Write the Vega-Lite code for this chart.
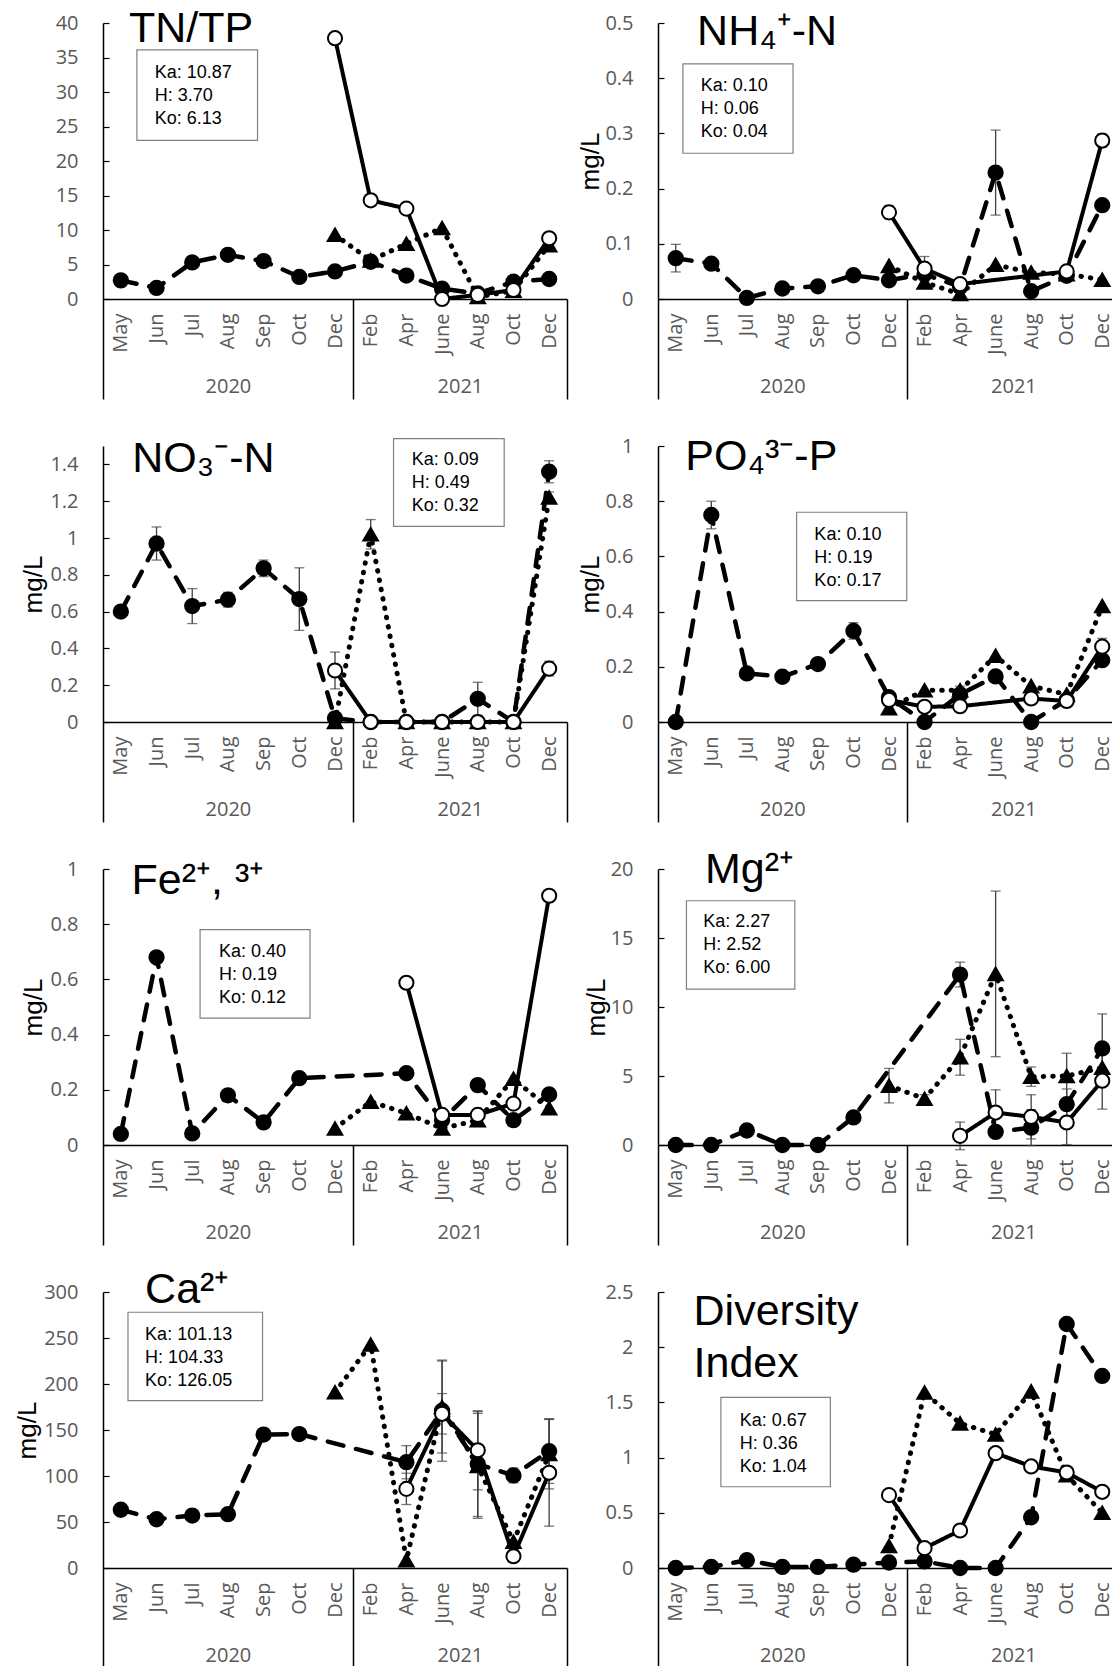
{
"$schema":"https://vega.github.io/schema/vega-lite/v6.json",
"background":"white",
"padding":{"left":14,"top":8,"right":0,"bottom":0},
"datasets":{"d":[
{"p":1,"s":"H","i":0,"v":2.7},{"p":1,"s":"H","i":1,"v":1.6},{"p":1,"s":"H","i":2,"v":5.3},{"p":1,"s":"H","i":3,"v":6.4},{"p":1,"s":"H","i":4,"v":5.5},{"p":1,"s":"H","i":5,"v":3.2},{"p":1,"s":"H","i":6,"v":4.0},{"p":1,"s":"H","i":7,"v":5.4},{"p":1,"s":"H","i":8,"v":3.4},{"p":1,"s":"H","i":9,"v":1.5},{"p":1,"s":"H","i":10,"v":0.8},{"p":1,"s":"H","i":11,"v":2.5},{"p":1,"s":"H","i":12,"v":2.9},
{"p":1,"s":"Ko","i":6,"v":9.3},{"p":1,"s":"Ko","i":7,"v":5.6},{"p":1,"s":"Ko","i":8,"v":8.0},{"p":1,"s":"Ko","i":9,"v":10.3},{"p":1,"s":"Ko","i":10,"v":0.3},{"p":1,"s":"Ko","i":11,"v":1.2},{"p":1,"s":"Ko","i":12,"v":7.8},
{"p":1,"s":"Ka","i":6,"v":37.8},{"p":1,"s":"Ka","i":7,"v":14.3},{"p":1,"s":"Ka","i":8,"v":13.1},{"p":1,"s":"Ka","i":9,"v":0},{"p":1,"s":"Ka","i":10,"v":0.6},{"p":1,"s":"Ka","i":11,"v":1.3},{"p":1,"s":"Ka","i":12,"v":8.8},

{"p":2,"s":"H","i":0,"v":0.074,"e":0.025},{"p":2,"s":"H","i":1,"v":0.064,"e":0.008},{"p":2,"s":"H","i":2,"v":0.002},{"p":2,"s":"H","i":3,"v":0.019},{"p":2,"s":"H","i":4,"v":0.023},{"p":2,"s":"H","i":5,"v":0.043},{"p":2,"s":"H","i":6,"v":0.034},{"p":2,"s":"H","i":7,"v":0.045},{"p":2,"s":"H","i":8,"v":0.022},{"p":2,"s":"H","i":9,"v":0.229,"e":0.077},{"p":2,"s":"H","i":10,"v":0.014},{"p":2,"s":"H","i":11,"v":0.042},{"p":2,"s":"H","i":12,"v":0.17},
{"p":2,"s":"Ko","i":6,"v":0.06},{"p":2,"s":"Ko","i":7,"v":0.03},{"p":2,"s":"Ko","i":8,"v":0.009},{"p":2,"s":"Ko","i":9,"v":0.062},{"p":2,"s":"Ko","i":10,"v":0.048},{"p":2,"s":"Ko","i":11,"v":0.045},{"p":2,"s":"Ko","i":12,"v":0.035},
{"p":2,"s":"Ka","i":6,"v":0.157,"e":0.012},{"p":2,"s":"Ka","i":7,"v":0.055,"e":0.022},{"p":2,"s":"Ka","i":8,"v":0.027},{"p":2,"s":"Ka","i":11,"v":0.05,"e":0.01},{"p":2,"s":"Ka","i":12,"v":0.287,"e":0.012},

{"p":3,"s":"H","i":0,"v":0.6},{"p":3,"s":"H","i":1,"v":0.97,"e":0.09},{"p":3,"s":"H","i":2,"v":0.63,"e":0.095},{"p":3,"s":"H","i":3,"v":0.665,"e":0.04},{"p":3,"s":"H","i":4,"v":0.835,"e":0.045},{"p":3,"s":"H","i":5,"v":0.668,"e":0.17},{"p":3,"s":"H","i":6,"v":0.02},{"p":3,"s":"H","i":7,"v":0},{"p":3,"s":"H","i":8,"v":0},{"p":3,"s":"H","i":9,"v":0},{"p":3,"s":"H","i":10,"v":0.126,"e":0.09},{"p":3,"s":"H","i":11,"v":0},{"p":3,"s":"H","i":12,"v":1.36,"e":0.06},
{"p":3,"s":"Ko","i":6,"v":0},{"p":3,"s":"Ko","i":7,"v":1.02,"e":0.08},{"p":3,"s":"Ko","i":8,"v":0},{"p":3,"s":"Ko","i":9,"v":0},{"p":3,"s":"Ko","i":10,"v":0},{"p":3,"s":"Ko","i":11,"v":0},{"p":3,"s":"Ko","i":12,"v":1.22,"e":0.03},
{"p":3,"s":"Ka","i":6,"v":0.28,"e":0.1},{"p":3,"s":"Ka","i":7,"v":0},{"p":3,"s":"Ka","i":8,"v":0},{"p":3,"s":"Ka","i":9,"v":0},{"p":3,"s":"Ka","i":10,"v":0},{"p":3,"s":"Ka","i":11,"v":0},{"p":3,"s":"Ka","i":12,"v":0.29,"e":0.04},

{"p":4,"s":"H","i":0,"v":0},{"p":4,"s":"H","i":1,"v":0.75,"e":0.05},{"p":4,"s":"H","i":2,"v":0.176},{"p":4,"s":"H","i":3,"v":0.164},{"p":4,"s":"H","i":4,"v":0.21},{"p":4,"s":"H","i":5,"v":0.33,"e":0.03},{"p":4,"s":"H","i":6,"v":0.09},{"p":4,"s":"H","i":7,"v":0},{"p":4,"s":"H","i":8,"v":0.1,"e":0.03},{"p":4,"s":"H","i":9,"v":0.165},{"p":4,"s":"H","i":10,"v":0},{"p":4,"s":"H","i":11,"v":0.08},{"p":4,"s":"H","i":12,"v":0.224},
{"p":4,"s":"Ko","i":6,"v":0.05},{"p":4,"s":"Ko","i":7,"v":0.115},{"p":4,"s":"Ko","i":8,"v":0.115},{"p":4,"s":"Ko","i":9,"v":0.24},{"p":4,"s":"Ko","i":10,"v":0.13},{"p":4,"s":"Ko","i":11,"v":0.1},{"p":4,"s":"Ko","i":12,"v":0.42},
{"p":4,"s":"Ka","i":6,"v":0.08},{"p":4,"s":"Ka","i":7,"v":0.055},{"p":4,"s":"Ka","i":8,"v":0.057},{"p":4,"s":"Ka","i":10,"v":0.085},{"p":4,"s":"Ka","i":11,"v":0.076},{"p":4,"s":"Ka","i":12,"v":0.273,"e":0.03},

{"p":5,"s":"H","i":0,"v":0.04},{"p":5,"s":"H","i":1,"v":0.68},{"p":5,"s":"H","i":2,"v":0.042},{"p":5,"s":"H","i":3,"v":0.18},{"p":5,"s":"H","i":4,"v":0.082},{"p":5,"s":"H","i":5,"v":0.242},{"p":5,"s":"H","i":8,"v":0.26},{"p":5,"s":"H","i":9,"v":0.09},{"p":5,"s":"H","i":10,"v":0.217},{"p":5,"s":"H","i":11,"v":0.09},{"p":5,"s":"H","i":12,"v":0.183},
{"p":5,"s":"Ko","i":6,"v":0.06},{"p":5,"s":"Ko","i":7,"v":0.157},{"p":5,"s":"Ko","i":8,"v":0.115},{"p":5,"s":"Ko","i":9,"v":0.06},{"p":5,"s":"Ko","i":10,"v":0.09},{"p":5,"s":"Ko","i":11,"v":0.24},{"p":5,"s":"Ko","i":12,"v":0.133},
{"p":5,"s":"Ka","i":8,"v":0.588},{"p":5,"s":"Ka","i":9,"v":0.109},{"p":5,"s":"Ka","i":10,"v":0.109},{"p":5,"s":"Ka","i":11,"v":0.15},{"p":5,"s":"Ka","i":12,"v":0.903},

{"p":6,"s":"H","i":0,"v":0},{"p":6,"s":"H","i":1,"v":0},{"p":6,"s":"H","i":2,"v":1.05},{"p":6,"s":"H","i":3,"v":0},{"p":6,"s":"H","i":4,"v":0},{"p":6,"s":"H","i":5,"v":2.0},{"p":6,"s":"H","i":8,"v":12.35,"e":0.9},{"p":6,"s":"H","i":9,"v":0.95},{"p":6,"s":"H","i":10,"v":1.26,"e":1.3},{"p":6,"s":"H","i":11,"v":2.96,"e":1.1},{"p":6,"s":"H","i":12,"v":7.0,"e":2.5},
{"p":6,"s":"Ko","i":6,"v":4.3,"e":1.25},{"p":6,"s":"Ko","i":7,"v":3.35,"e":0.3},{"p":6,"s":"Ko","i":8,"v":6.36,"e":1.3},{"p":6,"s":"Ko","i":9,"v":12.4,"e":6.0},{"p":6,"s":"Ko","i":10,"v":4.95,"e":0.7},{"p":6,"s":"Ko","i":11,"v":5.0,"e":1.65},{"p":6,"s":"Ko","i":12,"v":5.6},
{"p":6,"s":"Ka","i":8,"v":0.66,"e":1.0},{"p":6,"s":"Ka","i":9,"v":2.35,"e":1.65},{"p":6,"s":"Ka","i":10,"v":2.04,"e":1.6},{"p":6,"s":"Ka","i":11,"v":1.63,"e":1.6},{"p":6,"s":"Ka","i":12,"v":4.66,"e":2.06},

{"p":7,"s":"H","i":0,"v":63.3},{"p":7,"s":"H","i":1,"v":53},{"p":7,"s":"H","i":2,"v":57},{"p":7,"s":"H","i":3,"v":58.5},{"p":7,"s":"H","i":4,"v":145},{"p":7,"s":"H","i":5,"v":145.6},{"p":7,"s":"H","i":8,"v":115,"e":18},{"p":7,"s":"H","i":9,"v":171,"e":55},{"p":7,"s":"H","i":10,"v":113,"e":57},{"p":7,"s":"H","i":11,"v":100.6,"e":8},{"p":7,"s":"H","i":12,"v":127,"e":35},
{"p":7,"s":"Ko","i":6,"v":191},{"p":7,"s":"Ko","i":7,"v":243},{"p":7,"s":"Ko","i":8,"v":8.4},{"p":7,"s":"Ko","i":9,"v":175,"e":50},{"p":7,"s":"Ko","i":10,"v":111,"e":57},{"p":7,"s":"Ko","i":11,"v":28.5},{"p":7,"s":"Ko","i":12,"v":124,"e":38},
{"p":7,"s":"Ka","i":8,"v":86,"e":17},{"p":7,"s":"Ka","i":9,"v":167.6,"e":22},{"p":7,"s":"Ka","i":10,"v":128,"e":43},{"p":7,"s":"Ka","i":11,"v":12.8,"e":5},{"p":7,"s":"Ka","i":12,"v":103.5,"e":58},

{"p":8,"s":"H","i":0,"v":0},{"p":8,"s":"H","i":1,"v":0.01},{"p":8,"s":"H","i":2,"v":0.07},{"p":8,"s":"H","i":3,"v":0.01},{"p":8,"s":"H","i":4,"v":0.01},{"p":8,"s":"H","i":5,"v":0.03},{"p":8,"s":"H","i":6,"v":0.05},{"p":8,"s":"H","i":7,"v":0.06},{"p":8,"s":"H","i":8,"v":0},{"p":8,"s":"H","i":9,"v":0},{"p":8,"s":"H","i":10,"v":0.46},{"p":8,"s":"H","i":11,"v":2.21},{"p":8,"s":"H","i":12,"v":1.74},
{"p":8,"s":"Ko","i":6,"v":0.2},{"p":8,"s":"Ko","i":7,"v":1.59},{"p":8,"s":"Ko","i":8,"v":1.31},{"p":8,"s":"Ko","i":9,"v":1.21},{"p":8,"s":"Ko","i":10,"v":1.6},{"p":8,"s":"Ko","i":11,"v":0.84},{"p":8,"s":"Ko","i":12,"v":0.5},
{"p":8,"s":"Ka","i":6,"v":0.66},{"p":8,"s":"Ka","i":7,"v":0.18},{"p":8,"s":"Ka","i":8,"v":0.34},{"p":8,"s":"Ka","i":9,"v":1.04},{"p":8,"s":"Ka","i":10,"v":0.92},{"p":8,"s":"Ka","i":11,"v":0.865},{"p":8,"s":"Ka","i":12,"v":0.69}
]},
"columns":2,
"bounds":"flush",
"spacing":{"row":147,"column":91},
"concat":[
{"width":464,"height":276,"data":{"name":"d"},"transform":[{"filter":"datum.p == 1"}],"resolve":{"axis":{"x":"independent","y":"independent"}},"layer":[
 {"data":{"values":[{}]},"mark":{"type":"rect","fill":"white","stroke":"#808080","strokeWidth":1.2},"encoding":{"x":{"datum":0.45,"type":"quantitative","scale":{"domain":[-0.5,12.5],"nice":false,"zero":false},"axis":null},"x2":{"datum":3.83},"y":{"datum":36.1,"type":"quantitative","scale":{"domain":[0,40],"nice":false},"axis":null},"y2":{"datum":23.0}}},
 {"data":{"values":[{}]},"mark":{"type":"text","align":"left","baseline":"middle","fontSize":18,"lineHeight":23},"encoding":{"x":{"datum":0.95,"type":"quantitative","scale":{"domain":[-0.5,12.5],"nice":false,"zero":false},"axis":null},"y":{"datum":32.75,"type":"quantitative","scale":{"domain":[0,40],"nice":false},"axis":null},"text":{"value":["Ka: 10.87","H: 3.70","Ko: 6.13"]}}},
 {"data":{"values":[{}]},"mark":{"type":"text","align":"left","baseline":"alphabetic","fontSize":43},"encoding":{"x":{"datum":0.23,"type":"quantitative","scale":{"domain":[-0.5,12.5],"nice":false,"zero":false},"axis":{"orient":"bottom","values":[-0.5,3,6.5,9.5,12.5],"labelExpr":"datum.value == 3 ? '2020' : datum.value == 9.5 ? '2021' : ''","ticks":true,"tickSize":100,"tickWidth":1.5,"tickColor":{"condition":{"test":"datum.value == 3 || datum.value == 9.5","value":"transparent"},"value":"black"},"domain":false,"labelAngle":0,"labelAlign":"center","labelBaseline":"middle","labelPadding":-13,"labelFontSize":20,"labelFlush":false,"labelOverlap":false,"labelBound":false,"title":null}},"y":{"datum":37.2,"type":"quantitative","scale":{"domain":[0,40],"nice":false},"axis":null},"text":{"value":"TN/TP"}}},
 {"transform":[{"filter":"isValid(datum.e)"}],"mark":{"type":"errorbar","ticks":{"color":"#404040"},"rule":{"color":"#404040"},"size":10,"thickness":1.3},"encoding":{"x":{"field":"i","type":"quantitative","scale":{"domain":[-0.5,12.5],"nice":false,"zero":false},"axis":null},"y":{"field":"v","type":"quantitative","scale":{"domain":[0,40],"nice":false},"axis":null},"yError":{"field":"e"}}},
 {"mark":{"type":"line","strokeCap":"round","color":"black"},"encoding":{"x":{"field":"i","type":"quantitative","scale":{"domain":[-0.5,12.5],"nice":false,"zero":false},"axis":{"orient":"bottom","values":[0,1,2,3,4,5,6,7,8,9,10,11,12],"labelExpr":"['May','Jun','Jul','Aug','Sep','Oct','Dec','Feb','Apr','June','Aug','Oct','Dec'][datum.value]","labelAngle":-90,"labelAlign":"right","labelBaseline":"middle","labelPadding":14,"labelFontSize":20,"ticks":false,"labelFlush":false,"labelOverlap":false,"labelBound":false,"title":null}},"y":{"field":"v","type":"quantitative","scale":{"domain":[0,40],"nice":false},"axis":{"orient":"left","values":[0,5,10,15,20,25,30,35,40],"format":"~r","tickSize":-6,"labelPadding":31,"title":null}},"strokeDash":{"field":"s","type":"nominal","scale":{"domain":["Ka","H","Ko"],"range":[[1,0],[16,13],[0.5,9]]},"legend":null},"strokeWidth":{"field":"s","type":"nominal","scale":{"domain":["Ka","H","Ko"],"range":[4,5,5]},"legend":null}}},
 {"mark":{"type":"point","filled":true,"stroke":"black","strokeWidth":2,"opacity":1},"encoding":{"x":{"field":"i","type":"quantitative","scale":{"domain":[-0.5,12.5],"nice":false,"zero":false},"axis":null},"y":{"field":"v","type":"quantitative","scale":{"domain":[0,40],"nice":false},"axis":null},"shape":{"field":"s","type":"nominal","scale":{"domain":["Ka","H","Ko"],"range":["circle","circle","triangle-up"]},"legend":null},"fill":{"field":"s","type":"nominal","scale":{"domain":["Ka","H","Ko"],"range":["white","black","black"]},"legend":null},"size":{"field":"s","type":"nominal","scale":{"domain":["Ka","H","Ko"],"range":[200,210,180]},"legend":null}}}
]},
{"width":462,"height":276,"data":{"name":"d"},"transform":[{"filter":"datum.p == 2"}],"resolve":{"axis":{"x":"independent","y":"independent"}},"layer":[
 {"data":{"values":[{}]},"mark":{"type":"rect","fill":"white","stroke":"#808080","strokeWidth":1.2},"encoding":{"x":{"datum":0.2,"type":"quantitative","scale":{"domain":[-0.5,12.5],"nice":false,"zero":false},"axis":null},"x2":{"datum":3.3},"y":{"datum":0.426,"type":"quantitative","scale":{"domain":[0,0.5],"nice":false},"axis":null},"y2":{"datum":0.264}}},
 {"data":{"values":[{}]},"mark":{"type":"text","align":"left","baseline":"middle","fontSize":18,"lineHeight":23},"encoding":{"x":{"datum":0.7,"type":"quantitative","scale":{"domain":[-0.5,12.5],"nice":false,"zero":false},"axis":null},"y":{"datum":0.386,"type":"quantitative","scale":{"domain":[0,0.5],"nice":false},"axis":null},"text":{"value":["Ka: 0.10","H: 0.06","Ko: 0.04"]}}},
 {"data":{"values":[{}]},"mark":{"type":"text","align":"left","baseline":"alphabetic","fontSize":43},"encoding":{"x":{"datum":0.6,"type":"quantitative","scale":{"domain":[-0.5,12.5],"nice":false,"zero":false},"axis":{"orient":"bottom","values":[-0.5,3,6.5,9.5,12.5],"labelExpr":"datum.value == 3 ? '2020' : datum.value == 9.5 ? '2021' : ''","ticks":true,"tickSize":100,"tickWidth":1.5,"tickColor":{"condition":{"test":"datum.value == 3 || datum.value == 9.5","value":"transparent"},"value":"black"},"domain":false,"labelAngle":0,"labelAlign":"center","labelBaseline":"middle","labelPadding":-13,"labelFontSize":20,"labelFlush":false,"labelOverlap":false,"labelBound":false,"title":null}},"y":{"datum":0.46,"type":"quantitative","scale":{"domain":[0,0.5],"nice":false},"axis":null},"text":{"value":"NH₄⁺-N"}}},
 {"transform":[{"filter":"isValid(datum.e)"}],"mark":{"type":"errorbar","ticks":{"color":"#404040"},"rule":{"color":"#404040"},"size":10,"thickness":1.3},"encoding":{"x":{"field":"i","type":"quantitative","scale":{"domain":[-0.5,12.5],"nice":false,"zero":false},"axis":null},"y":{"field":"v","type":"quantitative","scale":{"domain":[0,0.5],"nice":false},"axis":null},"yError":{"field":"e"}}},
 {"mark":{"type":"line","strokeCap":"round","color":"black"},"encoding":{"x":{"field":"i","type":"quantitative","scale":{"domain":[-0.5,12.5],"nice":false,"zero":false},"axis":{"orient":"bottom","values":[0,1,2,3,4,5,6,7,8,9,10,11,12],"labelExpr":"['May','Jun','Jul','Aug','Sep','Oct','Dec','Feb','Apr','June','Aug','Oct','Dec'][datum.value]","labelAngle":-90,"labelAlign":"right","labelBaseline":"middle","labelPadding":14,"labelFontSize":20,"ticks":false,"labelFlush":false,"labelOverlap":false,"labelBound":false,"title":null}},"y":{"field":"v","type":"quantitative","scale":{"domain":[0,0.5],"nice":false},"axis":{"orient":"left","values":[0,0.1,0.2,0.3,0.4,0.5],"format":"~r","tickSize":-6,"labelPadding":31,"title":"mg/L","titlePadding":1}},"strokeDash":{"field":"s","type":"nominal","scale":{"domain":["Ka","H","Ko"],"range":[[1,0],[16,13],[0.5,9]]},"legend":null},"strokeWidth":{"field":"s","type":"nominal","scale":{"domain":["Ka","H","Ko"],"range":[4,5,5]},"legend":null}}},
 {"mark":{"type":"point","filled":true,"stroke":"black","strokeWidth":2,"opacity":1},"encoding":{"x":{"field":"i","type":"quantitative","scale":{"domain":[-0.5,12.5],"nice":false,"zero":false},"axis":null},"y":{"field":"v","type":"quantitative","scale":{"domain":[0,0.5],"nice":false},"axis":null},"shape":{"field":"s","type":"nominal","scale":{"domain":["Ka","H","Ko"],"range":["circle","circle","triangle-up"]},"legend":null},"fill":{"field":"s","type":"nominal","scale":{"domain":["Ka","H","Ko"],"range":["white","black","black"]},"legend":null},"size":{"field":"s","type":"nominal","scale":{"domain":["Ka","H","Ko"],"range":[200,210,180]},"legend":null}}}
]},
{"width":464,"height":276,"data":{"name":"d"},"transform":[{"filter":"datum.p == 3"}],"resolve":{"axis":{"x":"independent","y":"independent"}},"layer":[
 {"data":{"values":[{}]},"mark":{"type":"rect","fill":"white","stroke":"#808080","strokeWidth":1.2},"encoding":{"x":{"datum":7.64,"type":"quantitative","scale":{"domain":[-0.5,12.5],"nice":false,"zero":false},"axis":null},"x2":{"datum":10.74},"y":{"datum":1.54,"type":"quantitative","scale":{"domain":[0,1.5],"nice":false},"axis":null},"y2":{"datum":1.063}}},
 {"data":{"values":[{}]},"mark":{"type":"text","align":"left","baseline":"middle","fontSize":18,"lineHeight":23},"encoding":{"x":{"datum":8.15,"type":"quantitative","scale":{"domain":[-0.5,12.5],"nice":false,"zero":false},"axis":null},"y":{"datum":1.423,"type":"quantitative","scale":{"domain":[0,1.5],"nice":false},"axis":null},"text":{"value":["Ka: 0.09","H: 0.49","Ko: 0.32"]}}},
 {"data":{"values":[{}]},"mark":{"type":"text","align":"left","baseline":"alphabetic","fontSize":43},"encoding":{"x":{"datum":0.32,"type":"quantitative","scale":{"domain":[-0.5,12.5],"nice":false,"zero":false},"axis":{"orient":"bottom","values":[-0.5,3,6.5,9.5,12.5],"labelExpr":"datum.value == 3 ? '2020' : datum.value == 9.5 ? '2021' : ''","ticks":true,"tickSize":100,"tickWidth":1.5,"tickColor":{"condition":{"test":"datum.value == 3 || datum.value == 9.5","value":"transparent"},"value":"black"},"domain":false,"labelAngle":0,"labelAlign":"center","labelBaseline":"middle","labelPadding":-13,"labelFontSize":20,"labelFlush":false,"labelOverlap":false,"labelBound":false,"title":null}},"y":{"datum":1.357,"type":"quantitative","scale":{"domain":[0,1.5],"nice":false},"axis":null},"text":{"value":"NO₃⁻-N"}}},
 {"transform":[{"filter":"isValid(datum.e)"}],"mark":{"type":"errorbar","ticks":{"color":"#404040"},"rule":{"color":"#404040"},"size":10,"thickness":1.3},"encoding":{"x":{"field":"i","type":"quantitative","scale":{"domain":[-0.5,12.5],"nice":false,"zero":false},"axis":null},"y":{"field":"v","type":"quantitative","scale":{"domain":[0,1.5],"nice":false},"axis":null},"yError":{"field":"e"}}},
 {"mark":{"type":"line","strokeCap":"round","color":"black"},"encoding":{"x":{"field":"i","type":"quantitative","scale":{"domain":[-0.5,12.5],"nice":false,"zero":false},"axis":{"orient":"bottom","values":[0,1,2,3,4,5,6,7,8,9,10,11,12],"labelExpr":"['May','Jun','Jul','Aug','Sep','Oct','Dec','Feb','Apr','June','Aug','Oct','Dec'][datum.value]","labelAngle":-90,"labelAlign":"right","labelBaseline":"middle","labelPadding":14,"labelFontSize":20,"ticks":false,"labelFlush":false,"labelOverlap":false,"labelBound":false,"title":null}},"y":{"field":"v","type":"quantitative","scale":{"domain":[0,1.5],"nice":false},"axis":{"orient":"left","values":[0,0.2,0.4,0.6,0.8,1,1.2,1.4],"format":"~r","tickSize":-6,"labelPadding":31,"title":"mg/L","titlePadding":3}},"strokeDash":{"field":"s","type":"nominal","scale":{"domain":["Ka","H","Ko"],"range":[[1,0],[16,13],[0.5,9]]},"legend":null},"strokeWidth":{"field":"s","type":"nominal","scale":{"domain":["Ka","H","Ko"],"range":[4,5,5]},"legend":null}}},
 {"mark":{"type":"point","filled":true,"stroke":"black","strokeWidth":2,"opacity":1},"encoding":{"x":{"field":"i","type":"quantitative","scale":{"domain":[-0.5,12.5],"nice":false,"zero":false},"axis":null},"y":{"field":"v","type":"quantitative","scale":{"domain":[0,1.5],"nice":false},"axis":null},"shape":{"field":"s","type":"nominal","scale":{"domain":["Ka","H","Ko"],"range":["circle","circle","triangle-up"]},"legend":null},"fill":{"field":"s","type":"nominal","scale":{"domain":["Ka","H","Ko"],"range":["white","black","black"]},"legend":null},"size":{"field":"s","type":"nominal","scale":{"domain":["Ka","H","Ko"],"range":[200,210,180]},"legend":null}}}
]},
{"width":462,"height":276,"data":{"name":"d"},"transform":[{"filter":"datum.p == 4"}],"resolve":{"axis":{"x":"independent","y":"independent"}},"layer":[
 {"data":{"values":[{}]},"mark":{"type":"rect","fill":"white","stroke":"#808080","strokeWidth":1.2},"encoding":{"x":{"datum":3.4,"type":"quantitative","scale":{"domain":[-0.5,12.5],"nice":false,"zero":false},"axis":null},"x2":{"datum":6.5},"y":{"datum":0.76,"type":"quantitative","scale":{"domain":[0,1],"nice":false},"axis":null},"y2":{"datum":0.44}}},
 {"data":{"values":[{}]},"mark":{"type":"text","align":"left","baseline":"middle","fontSize":18,"lineHeight":23},"encoding":{"x":{"datum":3.9,"type":"quantitative","scale":{"domain":[-0.5,12.5],"nice":false,"zero":false},"axis":null},"y":{"datum":0.677,"type":"quantitative","scale":{"domain":[0,1],"nice":false},"axis":null},"text":{"value":["Ka: 0.10","H: 0.19","Ko: 0.17"]}}},
 {"data":{"values":[{}]},"mark":{"type":"text","align":"left","baseline":"alphabetic","fontSize":43},"encoding":{"x":{"datum":0.27,"type":"quantitative","scale":{"domain":[-0.5,12.5],"nice":false,"zero":false},"axis":{"orient":"bottom","values":[-0.5,3,6.5,9.5,12.5],"labelExpr":"datum.value == 3 ? '2020' : datum.value == 9.5 ? '2021' : ''","ticks":true,"tickSize":100,"tickWidth":1.5,"tickColor":{"condition":{"test":"datum.value == 3 || datum.value == 9.5","value":"transparent"},"value":"black"},"domain":false,"labelAngle":0,"labelAlign":"center","labelBaseline":"middle","labelPadding":-13,"labelFontSize":20,"labelFlush":false,"labelOverlap":false,"labelBound":false,"title":null}},"y":{"datum":0.914,"type":"quantitative","scale":{"domain":[0,1],"nice":false},"axis":null},"text":{"value":"PO₄³⁻-P"}}},
 {"transform":[{"filter":"isValid(datum.e)"}],"mark":{"type":"errorbar","ticks":{"color":"#404040"},"rule":{"color":"#404040"},"size":10,"thickness":1.3},"encoding":{"x":{"field":"i","type":"quantitative","scale":{"domain":[-0.5,12.5],"nice":false,"zero":false},"axis":null},"y":{"field":"v","type":"quantitative","scale":{"domain":[0,1],"nice":false},"axis":null},"yError":{"field":"e"}}},
 {"mark":{"type":"line","strokeCap":"round","color":"black"},"encoding":{"x":{"field":"i","type":"quantitative","scale":{"domain":[-0.5,12.5],"nice":false,"zero":false},"axis":{"orient":"bottom","values":[0,1,2,3,4,5,6,7,8,9,10,11,12],"labelExpr":"['May','Jun','Jul','Aug','Sep','Oct','Dec','Feb','Apr','June','Aug','Oct','Dec'][datum.value]","labelAngle":-90,"labelAlign":"right","labelBaseline":"middle","labelPadding":14,"labelFontSize":20,"ticks":false,"labelFlush":false,"labelOverlap":false,"labelBound":false,"title":null}},"y":{"field":"v","type":"quantitative","scale":{"domain":[0,1],"nice":false},"axis":{"orient":"left","values":[0,0.2,0.4,0.6,0.8,1],"format":"~r","tickSize":-6,"labelPadding":31,"title":"mg/L","titlePadding":1}},"strokeDash":{"field":"s","type":"nominal","scale":{"domain":["Ka","H","Ko"],"range":[[1,0],[16,13],[0.5,9]]},"legend":null},"strokeWidth":{"field":"s","type":"nominal","scale":{"domain":["Ka","H","Ko"],"range":[4,5,5]},"legend":null}}},
 {"mark":{"type":"point","filled":true,"stroke":"black","strokeWidth":2,"opacity":1},"encoding":{"x":{"field":"i","type":"quantitative","scale":{"domain":[-0.5,12.5],"nice":false,"zero":false},"axis":null},"y":{"field":"v","type":"quantitative","scale":{"domain":[0,1],"nice":false},"axis":null},"shape":{"field":"s","type":"nominal","scale":{"domain":["Ka","H","Ko"],"range":["circle","circle","triangle-up"]},"legend":null},"fill":{"field":"s","type":"nominal","scale":{"domain":["Ka","H","Ko"],"range":["white","black","black"]},"legend":null},"size":{"field":"s","type":"nominal","scale":{"domain":["Ka","H","Ko"],"range":[200,210,180]},"legend":null}}}
]},
{"width":464,"height":276,"data":{"name":"d"},"transform":[{"filter":"datum.p == 5"}],"resolve":{"axis":{"x":"independent","y":"independent"}},"layer":[
 {"data":{"values":[{}]},"mark":{"type":"rect","fill":"white","stroke":"#808080","strokeWidth":1.2},"encoding":{"x":{"datum":2.22,"type":"quantitative","scale":{"domain":[-0.5,12.5],"nice":false,"zero":false},"axis":null},"x2":{"datum":5.3},"y":{"datum":0.78,"type":"quantitative","scale":{"domain":[0,1],"nice":false},"axis":null},"y2":{"datum":0.46}}},
 {"data":{"values":[{}]},"mark":{"type":"text","align":"left","baseline":"middle","fontSize":18,"lineHeight":23},"encoding":{"x":{"datum":2.75,"type":"quantitative","scale":{"domain":[-0.5,12.5],"nice":false,"zero":false},"axis":null},"y":{"datum":0.70,"type":"quantitative","scale":{"domain":[0,1],"nice":false},"axis":null},"text":{"value":["Ka: 0.40","H: 0.19","Ko: 0.12"]}}},
 {"data":{"values":[{}]},"mark":{"type":"text","align":"left","baseline":"alphabetic","fontSize":43},"encoding":{"x":{"datum":0.3,"type":"quantitative","scale":{"domain":[-0.5,12.5],"nice":false,"zero":false},"axis":{"orient":"bottom","values":[-0.5,3,6.5,9.5,12.5],"labelExpr":"datum.value == 3 ? '2020' : datum.value == 9.5 ? '2021' : ''","ticks":true,"tickSize":100,"tickWidth":1.5,"tickColor":{"condition":{"test":"datum.value == 3 || datum.value == 9.5","value":"transparent"},"value":"black"},"domain":false,"labelAngle":0,"labelAlign":"center","labelBaseline":"middle","labelPadding":-13,"labelFontSize":20,"labelFlush":false,"labelOverlap":false,"labelBound":false,"title":null}},"y":{"datum":0.91,"type":"quantitative","scale":{"domain":[0,1],"nice":false},"axis":null},"text":{"value":"Fe²⁺, ³⁺"}}},
 {"transform":[{"filter":"isValid(datum.e)"}],"mark":{"type":"errorbar","ticks":{"color":"#404040"},"rule":{"color":"#404040"},"size":10,"thickness":1.3},"encoding":{"x":{"field":"i","type":"quantitative","scale":{"domain":[-0.5,12.5],"nice":false,"zero":false},"axis":null},"y":{"field":"v","type":"quantitative","scale":{"domain":[0,1],"nice":false},"axis":null},"yError":{"field":"e"}}},
 {"mark":{"type":"line","strokeCap":"round","color":"black"},"encoding":{"x":{"field":"i","type":"quantitative","scale":{"domain":[-0.5,12.5],"nice":false,"zero":false},"axis":{"orient":"bottom","values":[0,1,2,3,4,5,6,7,8,9,10,11,12],"labelExpr":"['May','Jun','Jul','Aug','Sep','Oct','Dec','Feb','Apr','June','Aug','Oct','Dec'][datum.value]","labelAngle":-90,"labelAlign":"right","labelBaseline":"middle","labelPadding":14,"labelFontSize":20,"ticks":false,"labelFlush":false,"labelOverlap":false,"labelBound":false,"title":null}},"y":{"field":"v","type":"quantitative","scale":{"domain":[0,1],"nice":false},"axis":{"orient":"left","values":[0,0.2,0.4,0.6,0.8,1],"format":"~r","tickSize":-6,"labelPadding":31,"title":"mg/L","titlePadding":3}},"strokeDash":{"field":"s","type":"nominal","scale":{"domain":["Ka","H","Ko"],"range":[[1,0],[16,13],[0.5,9]]},"legend":null},"strokeWidth":{"field":"s","type":"nominal","scale":{"domain":["Ka","H","Ko"],"range":[4,5,5]},"legend":null}}},
 {"mark":{"type":"point","filled":true,"stroke":"black","strokeWidth":2,"opacity":1},"encoding":{"x":{"field":"i","type":"quantitative","scale":{"domain":[-0.5,12.5],"nice":false,"zero":false},"axis":null},"y":{"field":"v","type":"quantitative","scale":{"domain":[0,1],"nice":false},"axis":null},"shape":{"field":"s","type":"nominal","scale":{"domain":["Ka","H","Ko"],"range":["circle","circle","triangle-up"]},"legend":null},"fill":{"field":"s","type":"nominal","scale":{"domain":["Ka","H","Ko"],"range":["white","black","black"]},"legend":null},"size":{"field":"s","type":"nominal","scale":{"domain":["Ka","H","Ko"],"range":[200,210,180]},"legend":null}}}
]},
{"width":462,"height":276,"data":{"name":"d"},"transform":[{"filter":"datum.p == 6"}],"resolve":{"axis":{"x":"independent","y":"independent"}},"layer":[
 {"data":{"values":[{}]},"mark":{"type":"rect","fill":"white","stroke":"#808080","strokeWidth":1.2},"encoding":{"x":{"datum":0.3,"type":"quantitative","scale":{"domain":[-0.5,12.5],"nice":false,"zero":false},"axis":null},"x2":{"datum":3.35},"y":{"datum":17.7,"type":"quantitative","scale":{"domain":[0,20],"nice":false},"axis":null},"y2":{"datum":11.3}}},
 {"data":{"values":[{}]},"mark":{"type":"text","align":"left","baseline":"middle","fontSize":18,"lineHeight":23},"encoding":{"x":{"datum":0.77,"type":"quantitative","scale":{"domain":[-0.5,12.5],"nice":false,"zero":false},"axis":null},"y":{"datum":16.17,"type":"quantitative","scale":{"domain":[0,20],"nice":false},"axis":null},"text":{"value":["Ka: 2.27","H: 2.52","Ko: 6.00"]}}},
 {"data":{"values":[{}]},"mark":{"type":"text","align":"left","baseline":"alphabetic","fontSize":43},"encoding":{"x":{"datum":0.82,"type":"quantitative","scale":{"domain":[-0.5,12.5],"nice":false,"zero":false},"axis":{"orient":"bottom","values":[-0.5,3,6.5,9.5,12.5],"labelExpr":"datum.value == 3 ? '2020' : datum.value == 9.5 ? '2021' : ''","ticks":true,"tickSize":100,"tickWidth":1.5,"tickColor":{"condition":{"test":"datum.value == 3 || datum.value == 9.5","value":"transparent"},"value":"black"},"domain":false,"labelAngle":0,"labelAlign":"center","labelBaseline":"middle","labelPadding":-13,"labelFontSize":20,"labelFlush":false,"labelOverlap":false,"labelBound":false,"title":null}},"y":{"datum":19.0,"type":"quantitative","scale":{"domain":[0,20],"nice":false},"axis":null},"text":{"value":"Mg²⁺"}}},
 {"transform":[{"filter":"isValid(datum.e)"}],"mark":{"type":"errorbar","ticks":{"color":"#404040"},"rule":{"color":"#404040"},"size":10,"thickness":1.3},"encoding":{"x":{"field":"i","type":"quantitative","scale":{"domain":[-0.5,12.5],"nice":false,"zero":false},"axis":null},"y":{"field":"v","type":"quantitative","scale":{"domain":[0,20],"nice":false},"axis":null},"yError":{"field":"e"}}},
 {"mark":{"type":"line","strokeCap":"round","color":"black"},"encoding":{"x":{"field":"i","type":"quantitative","scale":{"domain":[-0.5,12.5],"nice":false,"zero":false},"axis":{"orient":"bottom","values":[0,1,2,3,4,5,6,7,8,9,10,11,12],"labelExpr":"['May','Jun','Jul','Aug','Sep','Oct','Dec','Feb','Apr','June','Aug','Oct','Dec'][datum.value]","labelAngle":-90,"labelAlign":"right","labelBaseline":"middle","labelPadding":14,"labelFontSize":20,"ticks":false,"labelFlush":false,"labelOverlap":false,"labelBound":false,"title":null}},"y":{"field":"v","type":"quantitative","scale":{"domain":[0,20],"nice":false},"axis":{"orient":"left","values":[0,5,10,15,20],"format":"~r","tickSize":-6,"labelPadding":31,"title":"mg/L","titlePadding":1}},"strokeDash":{"field":"s","type":"nominal","scale":{"domain":["Ka","H","Ko"],"range":[[1,0],[16,13],[0.5,9]]},"legend":null},"strokeWidth":{"field":"s","type":"nominal","scale":{"domain":["Ka","H","Ko"],"range":[4,5,5]},"legend":null}}},
 {"mark":{"type":"point","filled":true,"stroke":"black","strokeWidth":2,"opacity":1},"encoding":{"x":{"field":"i","type":"quantitative","scale":{"domain":[-0.5,12.5],"nice":false,"zero":false},"axis":null},"y":{"field":"v","type":"quantitative","scale":{"domain":[0,20],"nice":false},"axis":null},"shape":{"field":"s","type":"nominal","scale":{"domain":["Ka","H","Ko"],"range":["circle","circle","triangle-up"]},"legend":null},"fill":{"field":"s","type":"nominal","scale":{"domain":["Ka","H","Ko"],"range":["white","black","black"]},"legend":null},"size":{"field":"s","type":"nominal","scale":{"domain":["Ka","H","Ko"],"range":[200,210,180]},"legend":null}}}
]},
{"width":464,"height":276,"data":{"name":"d"},"transform":[{"filter":"datum.p == 7"}],"resolve":{"axis":{"x":"independent","y":"independent"}},"layer":[
 {"data":{"values":[{}]},"mark":{"type":"rect","fill":"white","stroke":"#808080","strokeWidth":1.2},"encoding":{"x":{"datum":0.2,"type":"quantitative","scale":{"domain":[-0.5,12.5],"nice":false,"zero":false},"axis":null},"x2":{"datum":3.97},"y":{"datum":278,"type":"quantitative","scale":{"domain":[0,300],"nice":false},"axis":null},"y2":{"datum":182}}},
 {"data":{"values":[{}]},"mark":{"type":"text","align":"left","baseline":"middle","fontSize":18,"lineHeight":23},"encoding":{"x":{"datum":0.68,"type":"quantitative","scale":{"domain":[-0.5,12.5],"nice":false,"zero":false},"axis":null},"y":{"datum":253,"type":"quantitative","scale":{"domain":[0,300],"nice":false},"axis":null},"text":{"value":["Ka: 101.13","H: 104.33","Ko: 126.05"]}}},
 {"data":{"values":[{}]},"mark":{"type":"text","align":"left","baseline":"alphabetic","fontSize":43},"encoding":{"x":{"datum":0.68,"type":"quantitative","scale":{"domain":[-0.5,12.5],"nice":false,"zero":false},"axis":{"orient":"bottom","values":[-0.5,3,6.5,9.5,12.5],"labelExpr":"datum.value == 3 ? '2020' : datum.value == 9.5 ? '2021' : ''","ticks":true,"tickSize":100,"tickWidth":1.5,"tickColor":{"condition":{"test":"datum.value == 3 || datum.value == 9.5","value":"transparent"},"value":"black"},"domain":false,"labelAngle":0,"labelAlign":"center","labelBaseline":"middle","labelPadding":-13,"labelFontSize":20,"labelFlush":false,"labelOverlap":false,"labelBound":false,"title":null}},"y":{"datum":288,"type":"quantitative","scale":{"domain":[0,300],"nice":false},"axis":null},"text":{"value":"Ca²⁺"}}},
 {"transform":[{"filter":"isValid(datum.e)"}],"mark":{"type":"errorbar","ticks":{"color":"#404040"},"rule":{"color":"#404040"},"size":10,"thickness":1.3},"encoding":{"x":{"field":"i","type":"quantitative","scale":{"domain":[-0.5,12.5],"nice":false,"zero":false},"axis":null},"y":{"field":"v","type":"quantitative","scale":{"domain":[0,300],"nice":false},"axis":null},"yError":{"field":"e"}}},
 {"mark":{"type":"line","strokeCap":"round","color":"black"},"encoding":{"x":{"field":"i","type":"quantitative","scale":{"domain":[-0.5,12.5],"nice":false,"zero":false},"axis":{"orient":"bottom","values":[0,1,2,3,4,5,6,7,8,9,10,11,12],"labelExpr":"['May','Jun','Jul','Aug','Sep','Oct','Dec','Feb','Apr','June','Aug','Oct','Dec'][datum.value]","labelAngle":-90,"labelAlign":"right","labelBaseline":"middle","labelPadding":14,"labelFontSize":20,"ticks":false,"labelFlush":false,"labelOverlap":false,"labelBound":false,"title":null}},"y":{"field":"v","type":"quantitative","scale":{"domain":[0,300],"nice":false},"axis":{"orient":"left","values":[0,50,100,150,200,250,300],"format":"~r","tickSize":-6,"labelPadding":31,"title":"mg/L","titlePadding":3}},"strokeDash":{"field":"s","type":"nominal","scale":{"domain":["Ka","H","Ko"],"range":[[1,0],[16,13],[0.5,9]]},"legend":null},"strokeWidth":{"field":"s","type":"nominal","scale":{"domain":["Ka","H","Ko"],"range":[4,5,5]},"legend":null}}},
 {"mark":{"type":"point","filled":true,"stroke":"black","strokeWidth":2,"opacity":1},"encoding":{"x":{"field":"i","type":"quantitative","scale":{"domain":[-0.5,12.5],"nice":false,"zero":false},"axis":null},"y":{"field":"v","type":"quantitative","scale":{"domain":[0,300],"nice":false},"axis":null},"shape":{"field":"s","type":"nominal","scale":{"domain":["Ka","H","Ko"],"range":["circle","circle","triangle-up"]},"legend":null},"fill":{"field":"s","type":"nominal","scale":{"domain":["Ka","H","Ko"],"range":["white","black","black"]},"legend":null},"size":{"field":"s","type":"nominal","scale":{"domain":["Ka","H","Ko"],"range":[200,210,180]},"legend":null}}}
]},
{"width":462,"height":276,"data":{"name":"d"},"transform":[{"filter":"datum.p == 8"}],"resolve":{"axis":{"x":"independent","y":"independent"}},"layer":[
 {"data":{"values":[{}]},"mark":{"type":"rect","fill":"white","stroke":"#808080","strokeWidth":1.2},"encoding":{"x":{"datum":1.27,"type":"quantitative","scale":{"domain":[-0.5,12.5],"nice":false,"zero":false},"axis":null},"x2":{"datum":4.35},"y":{"datum":1.545,"type":"quantitative","scale":{"domain":[0,2.5],"nice":false},"axis":null},"y2":{"datum":0.736}}},
 {"data":{"values":[{}]},"mark":{"type":"text","align":"left","baseline":"middle","fontSize":18,"lineHeight":23},"encoding":{"x":{"datum":1.8,"type":"quantitative","scale":{"domain":[-0.5,12.5],"nice":false,"zero":false},"axis":null},"y":{"datum":1.336,"type":"quantitative","scale":{"domain":[0,2.5],"nice":false},"axis":null},"text":{"value":["Ka: 0.67","H: 0.36","Ko: 1.04"]}}},
 {"data":{"values":[{}]},"mark":{"type":"text","align":"left","baseline":"alphabetic","fontSize":43,"lineHeight":52},"encoding":{"x":{"datum":0.5,"type":"quantitative","scale":{"domain":[-0.5,12.5],"nice":false,"zero":false},"axis":{"orient":"bottom","values":[-0.5,3,6.5,9.5,12.5],"labelExpr":"datum.value == 3 ? '2020' : datum.value == 9.5 ? '2021' : ''","ticks":true,"tickSize":100,"tickWidth":1.5,"tickColor":{"condition":{"test":"datum.value == 3 || datum.value == 9.5","value":"transparent"},"value":"black"},"domain":false,"labelAngle":0,"labelAlign":"center","labelBaseline":"middle","labelPadding":-13,"labelFontSize":20,"labelFlush":false,"labelOverlap":false,"labelBound":false,"title":null}},"y":{"datum":2.2,"type":"quantitative","scale":{"domain":[0,2.5],"nice":false},"axis":null},"text":{"value":["Diversity","Index"]}}},
 {"transform":[{"filter":"isValid(datum.e)"}],"mark":{"type":"errorbar","ticks":{"color":"#404040"},"rule":{"color":"#404040"},"size":10,"thickness":1.3},"encoding":{"x":{"field":"i","type":"quantitative","scale":{"domain":[-0.5,12.5],"nice":false,"zero":false},"axis":null},"y":{"field":"v","type":"quantitative","scale":{"domain":[0,2.5],"nice":false},"axis":null},"yError":{"field":"e"}}},
 {"mark":{"type":"line","strokeCap":"round","color":"black"},"encoding":{"x":{"field":"i","type":"quantitative","scale":{"domain":[-0.5,12.5],"nice":false,"zero":false},"axis":{"orient":"bottom","values":[0,1,2,3,4,5,6,7,8,9,10,11,12],"labelExpr":"['May','Jun','Jul','Aug','Sep','Oct','Dec','Feb','Apr','June','Aug','Oct','Dec'][datum.value]","labelAngle":-90,"labelAlign":"right","labelBaseline":"middle","labelPadding":14,"labelFontSize":20,"ticks":false,"labelFlush":false,"labelOverlap":false,"labelBound":false,"title":null}},"y":{"field":"v","type":"quantitative","scale":{"domain":[0,2.5],"nice":false},"axis":{"orient":"left","values":[0,0.5,1,1.5,2,2.5],"format":"~r","tickSize":-6,"labelPadding":31,"title":null}},"strokeDash":{"field":"s","type":"nominal","scale":{"domain":["Ka","H","Ko"],"range":[[1,0],[16,13],[0.5,9]]},"legend":null},"strokeWidth":{"field":"s","type":"nominal","scale":{"domain":["Ka","H","Ko"],"range":[4,5,5]},"legend":null}}},
 {"mark":{"type":"point","filled":true,"stroke":"black","strokeWidth":2,"opacity":1},"encoding":{"x":{"field":"i","type":"quantitative","scale":{"domain":[-0.5,12.5],"nice":false,"zero":false},"axis":null},"y":{"field":"v","type":"quantitative","scale":{"domain":[0,2.5],"nice":false},"axis":null},"shape":{"field":"s","type":"nominal","scale":{"domain":["Ka","H","Ko"],"range":["circle","circle","triangle-up"]},"legend":null},"fill":{"field":"s","type":"nominal","scale":{"domain":["Ka","H","Ko"],"range":["white","black","black"]},"legend":null},"size":{"field":"s","type":"nominal","scale":{"domain":["Ka","H","Ko"],"range":[200,210,180]},"legend":null}}}
]}
],
"config":{
 "view":{"stroke":null},
 "axis":{"grid":false,"domainColor":"black","domainWidth":1.5,"labelFont":"Open Sans","labelColor":"#595959","labelFontSize":20,"tickColor":"black","tickWidth":1.2,"titleFont":"Liberation Sans","titleFontWeight":"normal","titleColor":"black","titleFontSize":26},
 "text":{"font":"Liberation Sans","color":"black"}
}
}
